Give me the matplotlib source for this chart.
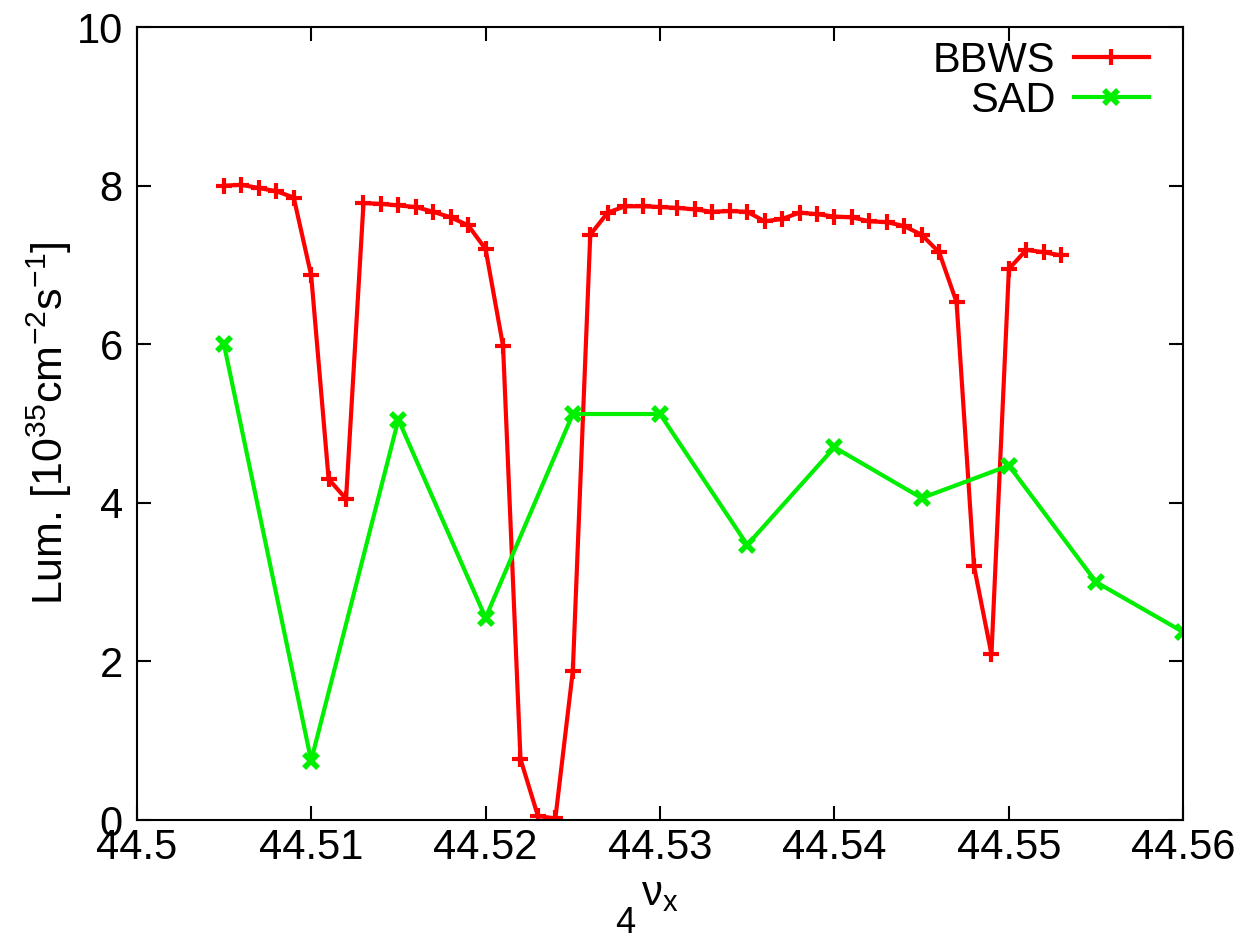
import matplotlib
matplotlib.use("Agg")
import matplotlib.pyplot as plt

plt.rcParams['font.family'] = ['Liberation Sans', 'DejaVu Sans']
plt.rcParams['mathtext.default'] = 'regular'

# BBWS scan, step 0.001
bbws_x = [44.505, 44.506, 44.507, 44.508, 44.509, 44.510, 44.511, 44.512, 44.513, 44.514,
          44.515, 44.516, 44.517, 44.518, 44.519, 44.520, 44.521, 44.522, 44.523, 44.524,
          44.525, 44.526, 44.527, 44.528, 44.529, 44.530, 44.531, 44.532, 44.533, 44.534,
          44.535, 44.536, 44.537, 44.538, 44.539, 44.540, 44.541, 44.542, 44.543, 44.544,
          44.545, 44.546, 44.547, 44.548, 44.549, 44.550, 44.551, 44.552, 44.553]
bbws_y = [8.00, 8.01, 7.97, 7.93, 7.85, 6.87, 4.30, 4.05, 7.78, 7.77,
          7.75, 7.73, 7.67, 7.60, 7.50, 7.20, 5.98, 0.77, 0.05, 0.02,
          1.88, 7.38, 7.66, 7.74, 7.74, 7.73, 7.72, 7.70, 7.67, 7.68,
          7.67, 7.55, 7.58, 7.66, 7.64, 7.61, 7.60, 7.55, 7.54, 7.49,
          7.38, 7.16, 6.53, 3.20, 2.09, 6.95, 7.19, 7.16, 7.12]

# SAD scan, step 0.005
sad_x = [44.505, 44.510, 44.515, 44.520, 44.525, 44.530, 44.535, 44.540, 44.545, 44.550, 44.555, 44.560]
sad_y = [6.00, 0.75, 5.05, 2.55, 5.12, 5.12, 3.47, 4.70, 4.06, 4.47, 3.00, 2.37]

fig = plt.figure(figsize=(12.43, 9.39), dpi=100)
ax = fig.add_axes([0.110, 0.1267, 0.842, 0.8445])

ax.plot(bbws_x, bbws_y, color='#ff0000', lw=3, marker='+', ms=12, mew=3, label='BBWS')
ax.plot(sad_x, sad_y, color='#00ee00', lw=3, marker='x', ms=10, mew=4, label='SAD')

ax.set_xlim(44.5, 44.56)
ax.set_ylim(0, 10)
ax.set_xticks([44.5, 44.51, 44.52, 44.53, 44.54, 44.55, 44.56])
ax.set_xticklabels(['44.5', '44.51', '44.52', '44.53', '44.54', '44.55', '44.56'])
ax.set_yticks([0, 2, 4, 6, 8, 10])
ax.tick_params(direction='in', length=10, width=1.5, labelsize=30, top=True, right=True, pad=6)
ax.tick_params(axis='y', pad=10)
for s in ax.spines.values():
    s.set_linewidth(1.5)

ax.set_xlabel('ν$_{x}$', fontsize=30, labelpad=4)
ax.set_ylabel('Lum. [10$^{35}$cm$^{-2}$s$^{-1}$]', fontsize=31, labelpad=2)
fig.text(0.503, 0.017, '4', fontsize=26, ha='center', va='center')

ax.legend(loc='upper right', bbox_to_anchor=(0.983, 1.004), frameon=False, markerfirst=False,
          fontsize=30, handlelength=1.8, handletextpad=0.45, borderaxespad=0, labelspacing=0)

fig.savefig('out.png', dpi=100)
